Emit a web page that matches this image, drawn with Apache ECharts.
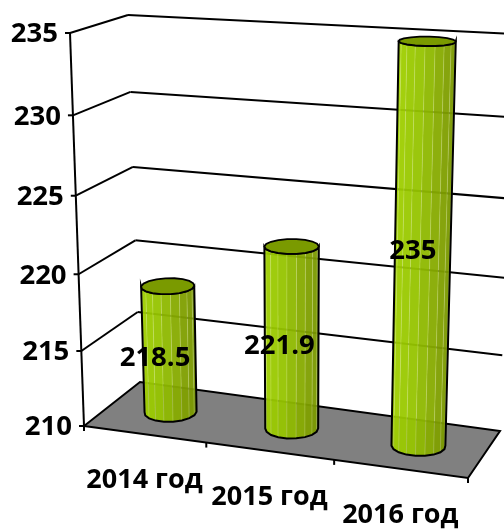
<!DOCTYPE html>
<html>
<head>
<meta charset="utf-8">
<style>
  html, body { margin: 0; padding: 0; background: #fff; }
  #chart { width: 504px; height: 529px; }
</style>
<script src="https://cdn.jsdelivr.net/npm/echarts@6/dist/echarts.min.js"></script>
</head>
<body>
<div id="chart"></div>
<script>
const categories = ['2014 год', '2015 год', '2016 год'];
const values = [218.5, 221.9, 235];
const yTicks = [210, 215, 220, 225, 230, 235];

// the plot box is the front face, warped onto the 3d walls below
const plot = { left: 84, top: 33, width: 384, height: 393 };
const FONT = '"Open Sans", sans-serif';

// corners of the 3d box: f/b = front/back, l/r = left/right, 0/1 = bottom/top
const box = {
  fl0: [84, 426], fl1: [70, 33],
  bl0: [140, 382], bl1: [128, 15],
  fr0: [468, 478], fr1: [483, 56],
  br0: [500, 431], br1: [512, 34]
};

function warp(t, k) {
  return t / (t + k * (1 - t));
}
function lerp(a, b, t) {
  return [a[0] + (b[0] - a[0]) * t, a[1] + (b[1] - a[1]) * t];
}
// u: along categories, d: depth (0 front), h: along values
function project(u, d, h) {
  const tu = warp(u, 1.07);
  const th = warp(h, 1.06);
  const front = lerp(lerp(box.fl0, box.fl1, th), lerp(box.fr0, box.fr1, th), tu);
  const back = lerp(lerp(box.bl0, box.bl1, th), lerp(box.br0, box.br1, th), tu);
  return lerp(front, back, d);
}
function toU(px) {
  return (px - plot.left) / plot.width;
}
function toH(py) {
  return (plot.top + plot.height - py) / plot.height;
}
function line(a, b, width) {
  return {
    type: 'line',
    shape: { x1: a[0], y1: a[1], x2: b[0], y2: b[1] },
    style: { stroke: '#000', lineWidth: width || 2 }
  };
}
function poly(points, style) {
  return { type: 'polygon', shape: { points: points }, style: style };
}

function renderWalls(params, api) {
  const tick = api.value(0);
  const h = toH(api.coord([0, tick])[1]);
  const children = [];
  if (tick === yTicks[0]) {
    children.push(poly([project(0, 0, 0), project(1, 0, 0), project(1, 1, 0), project(0, 1, 0)], {
      fill: '#808080', stroke: '#000', lineWidth: 2
    }));
    children.push(line(project(0, 0, 0), project(0, 0, 1)));
    for (let i = 0; i <= categories.length; i++) {
      const p = project(i / categories.length, 0, 0);
      children.push(line(p, [p[0], p[1] + 5]));
    }
  } else {
    children.push(line(project(0, 0, h), project(0, 1, h)));
    children.push(line(project(0, 1, h), project(1, 1, h)));
  }
  const p = project(0, 0, h);
  children.push(line(p, [p[0] - 5, p[1]]));
  children.push({
    type: 'text',
    style: {
      text: String(tick), x: p[0] - 12, y: p[1] + 1.5, fill: '#000',
      font: '700 27.5px ' + FONT, align: 'right', verticalAlign: 'middle'
    }
  });
  return { type: 'group', children: children };
}

function renderBars(params, api) {
  const idx = api.value(0);
  const val = api.value(1);
  const base = api.coord([idx, yTicks[0]]);
  const tip = api.coord([idx, val]);
  const u0 = toU(base[0]);
  const ru = api.size([1, 0])[0] * 0.2 / plot.width;
  const rd = 0.21;
  const d0 = 0.5;
  const hTop = toH(tip[1]);
  const N = 18;
  const bottom = [];
  const top = [];
  for (let i = 0; i < N; i++) {
    const a = Math.PI * 2 * i / N;
    const u = u0 + ru * Math.cos(a);
    const d = d0 + rd * Math.sin(a);
    bottom.push(project(u, d, 0));
    top.push(project(u, d, hTop));
  }
  // silhouette of the cylinder, walking the front side from left to right
  let iL = 0;
  let iR = 0;
  bottom.forEach((p, i) => {
    if (p[0] < bottom[iL][0]) iL = i;
    if (p[0] > bottom[iR][0]) iR = i;
  });
  const steps = (iR - iL + N) % N;
  const children = [];
  const lower = [];
  const upper = [];
  for (let s = 0; s <= steps; s++) {
    const i = (iL + s) % N;
    const j = (i + 1) % N;
    lower.push(bottom[i]);
    upper.push(top[i]);
    if (s < steps) {
      children.push(poly([bottom[i], bottom[j], top[j], top[i]], {
        fill: echarts.color.lerp(s / steps, ['#a2d200', '#96c400', '#7f9f00', '#6f8c00']),
        stroke: 'rgba(225,240,160,0.3)',
        lineWidth: 0.7,
        opacity: 0.95
      }));
    }
  }
  children.push(poly(lower.concat(upper.reverse()), { fill: 'none', stroke: '#000', lineWidth: 2 }));
  children.push(poly(top, { fill: '#7a9a00', stroke: '#000', lineWidth: 1.8 }));
  return { type: 'group', children: children };
}

function renderLabels(params, api) {
  const idx = api.value(0);
  const val = api.value(1);
  const base = api.coord([idx, yTicks[0]]);
  const tip = api.coord([idx, val]);
  const u0 = toU(base[0]);
  const pos = project(u0, 0.27, toH(tip[1]) * 0.52);
  const cat = project(u0, 0, 0);
  return {
    type: 'group',
    children: [{
      type: 'text',
      style: {
        text: String(val), x: pos[0] - 2, y: pos[1] + 2, fill: '#000',
        font: '700 27.5px ' + FONT, align: 'center', verticalAlign: 'middle'
      }
    }, {
      type: 'text',
      style: {
        text: categories[idx], x: cat[0], y: cat[1] + 46, fill: '#000',
        font: '700 27px ' + FONT, align: 'center', verticalAlign: 'middle'
      }
    }]
  };
}

const barData = values.map((v, i) => [i, v]);

const chart = echarts.init(document.getElementById('chart'), null, { renderer: 'canvas' });
chart.setOption({
  animation: false,
  backgroundColor: '#fff',
  grid: plot,
  xAxis: { type: 'category', data: categories, show: false },
  yAxis: { type: 'value', min: 210, max: 235, interval: 5, show: false },
  series: [
    { type: 'custom', data: yTicks.map(t => [t]), renderItem: renderWalls, clip: false, silent: true, z: 1 },
    { type: 'custom', data: barData, encode: { x: 0, y: 1 }, renderItem: renderBars, clip: false, silent: true, z: 2 },
    { type: 'custom', data: barData, encode: { x: 0, y: 1 }, renderItem: renderLabels, clip: false, silent: true, z: 3 }
  ]
});
</script>
</body>
</html>
